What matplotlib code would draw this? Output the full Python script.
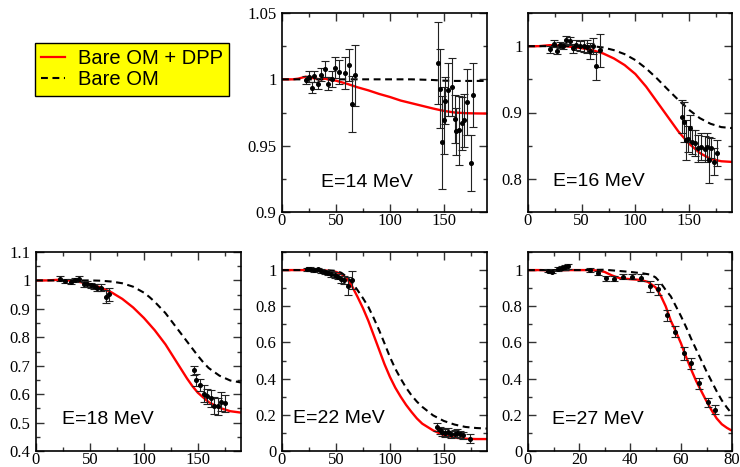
import matplotlib
matplotlib.use("Agg")
import matplotlib.pyplot as plt
from matplotlib.lines import Line2D
from matplotlib.ticker import MultipleLocator, FuncFormatter

# ---------------- data ----------------
# E = 14 MeV
e14_dpp_x = [0, 10, 15, 22, 28, 35, 40, 45, 50, 60, 70, 80, 90, 100, 110, 120, 130, 140, 150, 160, 170, 180, 190]
e14_dpp_y = [1.0, 1.0, 1.0005, 1.002, 1.001, 1.0, 1.0005, 0.9995, 0.999, 0.9967, 0.994, 0.9917, 0.989, 0.9867,
             0.984, 0.982, 0.980, 0.978, 0.9762, 0.975, 0.9745, 0.9743, 0.9742]
e14_bare_x = [0, 120, 140, 150, 160, 190]
e14_bare_y = [1.0, 1.0, 0.9995, 0.999, 0.9988, 0.9988]
e14_th = [22.1, 24.8, 27.4, 29.8, 33.0, 36.3, 39.4, 42.6, 46.3, 49.4, 52.5, 58.1, 61.9, 65.0, 67.4,
          144.4, 146.0, 148.2, 150.0, 151.5, 153.8, 157.8, 160.0, 161.5, 164.0, 166.8, 168.7, 171.8, 174.9, 177.0]
e14_val = [0.9992, 1.002, 0.9937, 1.0023, 0.9967, 1.0035, 1.0075, 0.9967, 1.0005, 1.0088, 1.0055, 1.005, 1.0106, 0.9816, 1.003,
           1.0123, 0.993, 0.9526, 0.969, 0.984, 0.992, 0.994, 0.970, 0.9607, 0.9615, 0.967, 0.969, 0.983, 0.9367, 0.988]
e14_err = [0.003, 0.004, 0.004, 0.004, 0.004, 0.005, 0.006, 0.005, 0.006, 0.008, 0.009, 0.012, 0.012, 0.021, 0.023,
           0.031, 0.030, 0.035, 0.025, 0.018, 0.020, 0.022, 0.018, 0.018, 0.026, 0.020, 0.020, 0.025, 0.021, 0.024]

# E = 16 MeV
e16_dpp_x = [0, 10, 20, 30, 40, 50, 60, 70, 80, 90, 100, 110, 120, 130, 140, 150, 160, 170, 180, 190]
e16_dpp_y = [1.0, 1.0, 1.0015, 1.001, 0.999, 0.997, 0.994, 0.989, 0.9815, 0.9715, 0.958, 0.939, 0.9165, 0.894,
             0.8715, 0.853, 0.839, 0.830, 0.8265, 0.8255]
e16_bare_x = [0, 60, 70, 80, 90, 100, 110, 120, 130, 140, 150, 160, 170, 180, 190]
e16_bare_y = [1.0, 1.0, 0.998, 0.994, 0.988, 0.979, 0.9665, 0.9515, 0.935, 0.919, 0.904, 0.8915, 0.883, 0.878, 0.8765]
e16_th = [20.9, 24.0, 27.0, 30.2, 32.3, 35.8, 38.9, 42.0, 44.7, 48.2, 51.9, 55.0, 57.5, 60.6, 63.7, 66.8,
          143.5, 145.1, 146.7, 148.8, 150.7, 152.8, 155.1, 158.2, 161.3, 164.4, 166.8, 168.4, 170.9, 173.0, 176.1]
e16_val = [0.995, 1.004, 0.993, 1.0015, 1.0005, 1.010, 1.008, 0.9965, 1.0015, 1.0005, 1.0005, 0.999, 0.993, 1.0005, 0.970, 0.994,
           0.8937, 0.886, 0.8586, 0.8597, 0.876, 0.856, 0.8537, 0.846, 0.8486, 0.8447, 0.8486, 0.8286, 0.846, 0.826, 0.8386]
e16_err = [0.005, 0.005, 0.005, 0.005, 0.005, 0.006, 0.006, 0.007, 0.008, 0.008, 0.009, 0.010, 0.012, 0.012, 0.021, 0.025,
           0.025, 0.030, 0.030, 0.020, 0.020, 0.018, 0.020, 0.020, 0.020, 0.020, 0.020, 0.035, 0.015, 0.020, 0.020]

# E = 18 MeV
e18_dpp_x = [0, 10, 20, 30, 40, 50, 60, 70, 80, 90, 100, 110, 115, 120, 125, 130, 135, 140, 145, 150, 160, 170, 180, 190]
e18_dpp_y = [1.0, 1.0, 1.002, 1.0, 0.995, 0.987, 0.975, 0.958, 0.935, 0.905, 0.868, 0.825, 0.80, 0.775, 0.745,
             0.715, 0.685, 0.655, 0.628, 0.605, 0.572, 0.552, 0.540, 0.535]
e18_bare_x = [0, 50, 60, 70, 80, 90, 100, 105, 110, 115, 120, 125, 130, 135, 140, 145, 150, 155, 160, 170, 180, 190]
e18_bare_y = [1.0, 1.0, 0.999, 0.996, 0.99, 0.978, 0.957, 0.942, 0.925, 0.905, 0.885, 0.86, 0.835, 0.81, 0.785,
              0.76, 0.735, 0.712, 0.692, 0.665, 0.648, 0.641]
e18_th = [22.7, 27.3, 32.0, 36.6, 39.8, 44.4, 47.5, 50.6, 53.7, 56.8, 60.0, 64.6, 67.7,
          146.3, 148.4, 151.6, 155.6, 158.7, 162.4, 164.9, 168.6, 171.7, 174.8]
e18_val = [1.006, 0.998, 0.996, 1.002, 1.006, 0.986, 0.988, 0.9825, 0.979, 0.974, 0.974, 0.943, 0.951,
           0.684, 0.650, 0.632, 0.601, 0.592, 0.586, 0.559, 0.557, 0.574, 0.568]
e18_err = [0.008, 0.008, 0.008, 0.008, 0.008, 0.010, 0.010, 0.010, 0.010, 0.012, 0.012, 0.024, 0.022,
           0.015, 0.020, 0.020, 0.030, 0.025, 0.030, 0.030, 0.030, 0.035, 0.030]

# E = 22 MeV
e22_dpp_x = [0, 30, 40, 50, 55, 60, 65, 70, 75, 80, 85, 90, 95, 100, 105, 110, 115, 120, 125, 130, 140, 150, 160, 170, 180, 190]
e22_dpp_y = [1.0, 1.0, 0.998, 0.99, 0.978, 0.955, 0.91, 0.852, 0.79, 0.72, 0.64, 0.56, 0.48, 0.41, 0.35, 0.30,
             0.255, 0.216, 0.18, 0.151, 0.114, 0.087, 0.074, 0.068, 0.066, 0.066]
e22_bare_x = [0, 40, 50, 55, 60, 65, 70, 75, 80, 85, 90, 95, 100, 105, 110, 115, 120, 125, 130, 140, 150, 160, 170, 180, 190]
e22_bare_y = [1.0, 1.0, 0.996, 0.985, 0.963, 0.93, 0.889, 0.845, 0.797, 0.735, 0.668, 0.595, 0.52, 0.455, 0.40,
              0.35, 0.308, 0.273, 0.244, 0.197, 0.166, 0.146, 0.133, 0.127, 0.124]
e22_th = [23.3, 26.4, 29.5, 33.2, 36.3, 39.4, 42.5, 45.6, 48.8, 51.9, 54.3, 57.5, 61.2, 64.6,
          143.5, 146.0, 148.5, 151.2, 153.7, 156.8, 160.0, 162.4, 164.9, 167.7, 174.0]
e22_val = [1.004, 1.006, 1.0, 1.004, 0.996, 0.991, 0.985, 0.978, 0.972, 0.963, 0.948, 0.945, 0.912, 0.945,
           0.133, 0.114, 0.105, 0.100, 0.105, 0.092, 0.096, 0.100, 0.092, 0.087, 0.068]
e22_err = [0.01, 0.01, 0.01, 0.01, 0.01, 0.012, 0.012, 0.015, 0.015, 0.015, 0.02, 0.02, 0.05, 0.05,
           0.02, 0.02, 0.02, 0.02, 0.02, 0.02, 0.02, 0.02, 0.02, 0.02, 0.025]

# E = 27 MeV
e27_dpp_x = [0, 5, 10, 15, 20, 25, 28, 30, 33, 36, 40, 44, 47, 50, 52, 54, 56, 58, 60, 62, 64, 66, 68, 70, 72, 74, 76, 78, 80]
e27_dpp_y = [1.0, 1.0, 0.998, 1.0, 1.0, 1.0, 0.996, 0.99, 0.97, 0.955, 0.95, 0.946, 0.935, 0.905, 0.86, 0.80, 0.72,
             0.66, 0.595, 0.52, 0.45, 0.385, 0.33, 0.275, 0.225, 0.18, 0.148, 0.128, 0.112]
e27_bare_x = [0, 20, 30, 40, 45, 48, 50, 52, 54, 56, 58, 60, 62, 64, 66, 68, 70, 72, 74, 76, 78, 80]
e27_bare_y = [1.0, 1.0, 1.002, 0.99, 0.982, 0.975, 0.96, 0.93, 0.89, 0.855, 0.80, 0.745, 0.685, 0.62, 0.56, 0.50,
              0.44, 0.385, 0.33, 0.28, 0.24, 0.205]
e27_th = [8.0, 9.3, 11.9, 13.2, 14.5, 15.8, 24.2, 27.5, 30.4, 33.7, 37.3, 40.8, 44.2, 48.0, 50.9,
          54.5, 57.7, 61.0, 64.0, 67.2, 70.5, 73.3]
e27_val = [0.996, 0.990, 1.005, 1.01, 1.015, 1.02, 1.002, 0.985, 0.955, 0.952, 0.963, 0.963, 0.958, 0.91, 0.895,
           0.75, 0.66, 0.54, 0.484, 0.375, 0.27, 0.228]
e27_err = [0.008, 0.008, 0.010, 0.010, 0.012, 0.015, 0.010, 0.012, 0.015, 0.015, 0.015, 0.015, 0.018, 0.03, 0.03,
           0.03, 0.03, 0.035, 0.03, 0.03, 0.025, 0.025]

panel_labels = ["E=14 MeV", "E=16 MeV", "E=18 MeV", "E=22 MeV", "E=27 MeV"]
legend_labels = ["Bare OM + DPP", "Bare OM"]

# ---------------- figure ----------------
W, H = 740, 467
fig = plt.figure(figsize=(W / 100, H / 100), dpi=100)

def rect(l, r, t, b):
    return [l / W, 1 - b / H, (r - l) / W, (b - t) / H]

TICKFAMILY = "Liberation Serif"
TICKSIZE = 12

def fmt(v, pos):
    return "%g" % round(v, 4)

panels = [
    dict(r=rect(282, 487, 13, 212), xlim=(0, 190), ylim=(0.9, 1.05), xmaj=50, xmin=25, ymaj=0.05, ymin=0.025,
         dpp=(e14_dpp_x, e14_dpp_y), bare=(e14_bare_x, e14_bare_y), pts=(e14_th, e14_val, e14_err),
         lab=panel_labels[0], lpos=(0.189, 0.146)),
    dict(r=rect(528, 732, 13, 212), xlim=(0, 190), ylim=(0.75, 1.05), xmaj=50, xmin=25, ymaj=0.1, ymin=0.05,
         dpp=(e16_dpp_x, e16_dpp_y), bare=(e16_bare_x, e16_bare_y), pts=(e16_th, e16_val, e16_err),
         lab=panel_labels[1], lpos=(0.124, 0.152)),
    dict(r=rect(36, 241, 252, 451), xlim=(0, 190), ylim=(0.4, 1.1), xmaj=50, xmin=25, ymaj=0.1, ymin=0.05,
         dpp=(e18_dpp_x, e18_dpp_y), bare=(e18_bare_x, e18_bare_y), pts=(e18_th, e18_val, e18_err),
         lab=panel_labels[2], lpos=(0.128, 0.159)),
    dict(r=rect(282, 487, 252, 451), xlim=(0, 190), ylim=(0.0, 1.1), xmaj=50, xmin=25, ymaj=0.2, ymin=0.1,
         dpp=(e22_dpp_x, e22_dpp_y), bare=(e22_bare_x, e22_bare_y), pts=(e22_th, e22_val, e22_err),
         lab=panel_labels[3], lpos=(0.055, 0.164)),
    dict(r=rect(528, 732, 252, 451), xlim=(0, 80), ylim=(0.0, 1.1), xmaj=20, xmin=10, ymaj=0.2, ymin=0.1,
         dpp=(e27_dpp_x, e27_dpp_y), bare=(e27_bare_x, e27_bare_y), pts=(e27_th, e27_val, e27_err),
         lab=panel_labels[4], lpos=(0.119, 0.156)),
]

for p in panels:
    ax = fig.add_axes(p["r"])
    ax.plot(*p["dpp"], color="red", lw=1.7, zorder=2, solid_capstyle="butt")
    ax.plot(*p["bare"], color="black", lw=1.5, ls=(0, (3.3, 2.2)), zorder=3)
    th, v, e = p["pts"]
    ax.errorbar(th, v, yerr=e, fmt="o", ms=2.6, color="black", ecolor="#222222",
                elinewidth=0.8, capsize=2.8, capthick=0.8, zorder=4)
    ax.set_xlim(*p["xlim"])
    ax.set_ylim(*p["ylim"])
    ax.xaxis.set_major_locator(MultipleLocator(p["xmaj"]))
    ax.xaxis.set_minor_locator(MultipleLocator(p["xmin"]))
    ax.yaxis.set_major_locator(MultipleLocator(p["ymaj"]))
    ax.yaxis.set_minor_locator(MultipleLocator(p["ymin"]))
    ax.yaxis.set_major_formatter(FuncFormatter(fmt))
    ax.xaxis.set_major_formatter(FuncFormatter(fmt))
    ax.tick_params(which="both", direction="in", top=True, right=True, color="#333333")
    ax.tick_params(which="major", length=6, width=1.0)
    ax.tick_params(which="minor", length=3, width=1.0)
    ax.tick_params(axis="x", which="major", pad=1.0)
    ax.tick_params(axis="y", which="major", pad=4)
    for lbl in ax.get_xticklabels() + ax.get_yticklabels():
        lbl.set_fontfamily(TICKFAMILY)
        lbl.set_fontsize(TICKSIZE)
    for s in ax.spines.values():
        s.set_linewidth(1.2)
    ax.text(p["lpos"][0], p["lpos"][1], p["lab"], transform=ax.transAxes, ha="left", va="center",
            fontsize=14, family="Liberation Sans")

handles = [Line2D([], [], color="red", lw=1.6),
           Line2D([], [], color="black", lw=1.5, ls=(0, (3.3, 2.2)))]
leg = fig.legend(handles, legend_labels, loc="upper left", bbox_to_anchor=(35 / W, 1 - 43 / H),
                 bbox_transform=fig.transFigure, borderaxespad=0, fancybox=False, framealpha=1,
                 facecolor="yellow", edgecolor="black", prop=dict(family="Liberation Sans", size=14.5),
                 handlelength=1.2, handletextpad=0.65, borderpad=0.3, labelspacing=0.12)
leg.get_frame().set_linewidth(1.0)

fig.savefig("out.png", dpi=100)
